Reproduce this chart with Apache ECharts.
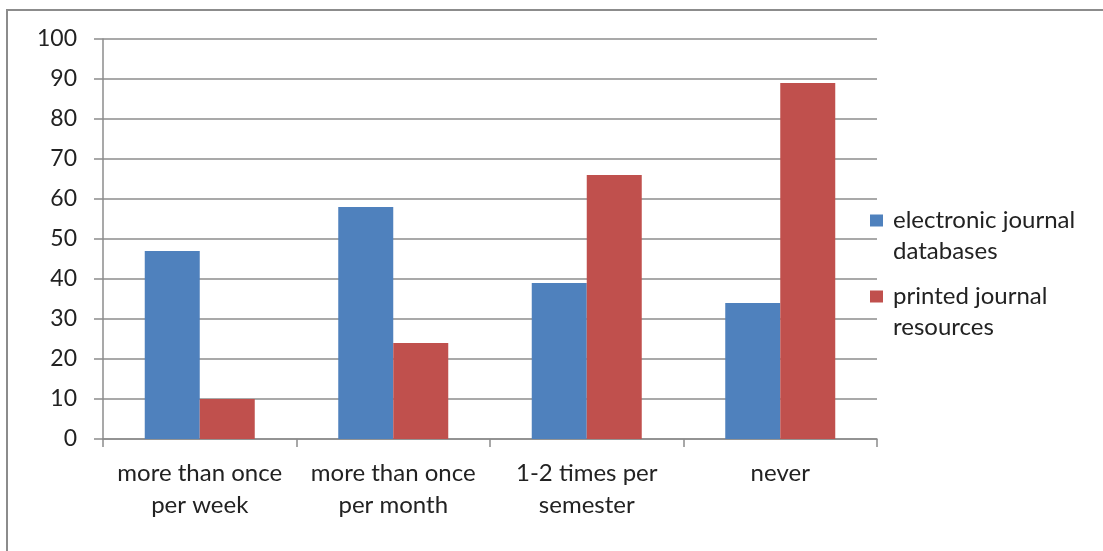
<!DOCTYPE html>
<html>
<head>
<meta charset="utf-8">
<script src="https://cdn.jsdelivr.net/npm/echarts@6/dist/echarts.min.js"></script>
<style>html,body{margin:0;padding:0;background:#fff;}#c{width:1103px;height:551px;}</style>
</head>
<body>
<div id="c"></div>
<script>
const categories = ['more than once\nper week', 'more than once\nper month', '1-2 times per\nsemester', 'never'];
const seriesNames = ['electronic journal databases', 'printed journal resources'];
const legendLines = [['electronic journal', 'databases'], ['printed journal', 'resources']];
const electronic = [47, 58, 39, 34];
const printed = [10, 24, 66, 89];
const yTicks = [0, 10, 20, 30, 40, 50, 60, 70, 80, 90, 100];

const FONT = 'Lato';
const chart = echarts.init(document.getElementById('c'));
chart.setOption({
  animation: false,
  backgroundColor: '#fff',
  graphic: [{
    type: 'rect', shape: {x: 7, y: 10, width: 1120, height: 580},
    style: {fill: 'none', stroke: '#8c8c8c', lineWidth: 2}, silent: true
  }],
  grid: {left: 103, right: 226, top: 39, bottom: 112, containLabel: false},
  legend: {
    orient: 'vertical', left: 865, top: 169, itemWidth: 13, itemHeight: 12, itemGap: -17,
    icon: 'rect',
    formatter: function (n) {
      const l = legendLines[seriesNames.indexOf(n)];
      return '{a| }\n{a|' + l[0] + '}\n{a|' + l[1] + '}';
    },
    textStyle: {fontFamily: FONT, fontSize: 24, color: '#222', lineHeight: 31,
      rich: {a: {fontFamily: FONT, fontSize: 24, color: '#222', lineHeight: 31, padding: [0, 0, 0, 5]}}}
  },
  xAxis: {
    type: 'category', data: categories,
    axisLine: {lineStyle: {color: '#8c8c8c', width: 1.5}},
    axisTick: {show: true, interval: 0, length: 8, lineStyle: {color: '#8c8c8c', width: 1.5}},
    axisLabel: {interval: 0, fontFamily: FONT, fontSize: 24, color: '#222', lineHeight: 32, margin: 18}
  },
  yAxis: {
    type: 'value', min: 0, max: 100, interval: 10,
    axisLine: {show: true, lineStyle: {color: '#8c8c8c', width: 1.5}},
    axisTick: {show: true, length: 9, lineStyle: {color: '#8c8c8c', width: 1.5}},
    splitLine: {lineStyle: {color: '#8c8c8c', width: 1.5}},
    axisLabel: {fontFamily: FONT, fontSize: 23, color: '#222', margin: 26,
      formatter: function (v) { return yTicks.indexOf(v) >= 0 ? String(v) : ''; }}
  },
  series: [
    {name: seriesNames[0], type: 'bar', data: electronic, barWidth: 55, barGap: '0%',
     itemStyle: {color: '#4f81bd'}},
    {name: seriesNames[1], type: 'bar', data: printed, barWidth: 55, barGap: '0%',
     itemStyle: {color: '#c0504d'}}
  ]
});
</script>
</body>
</html>
